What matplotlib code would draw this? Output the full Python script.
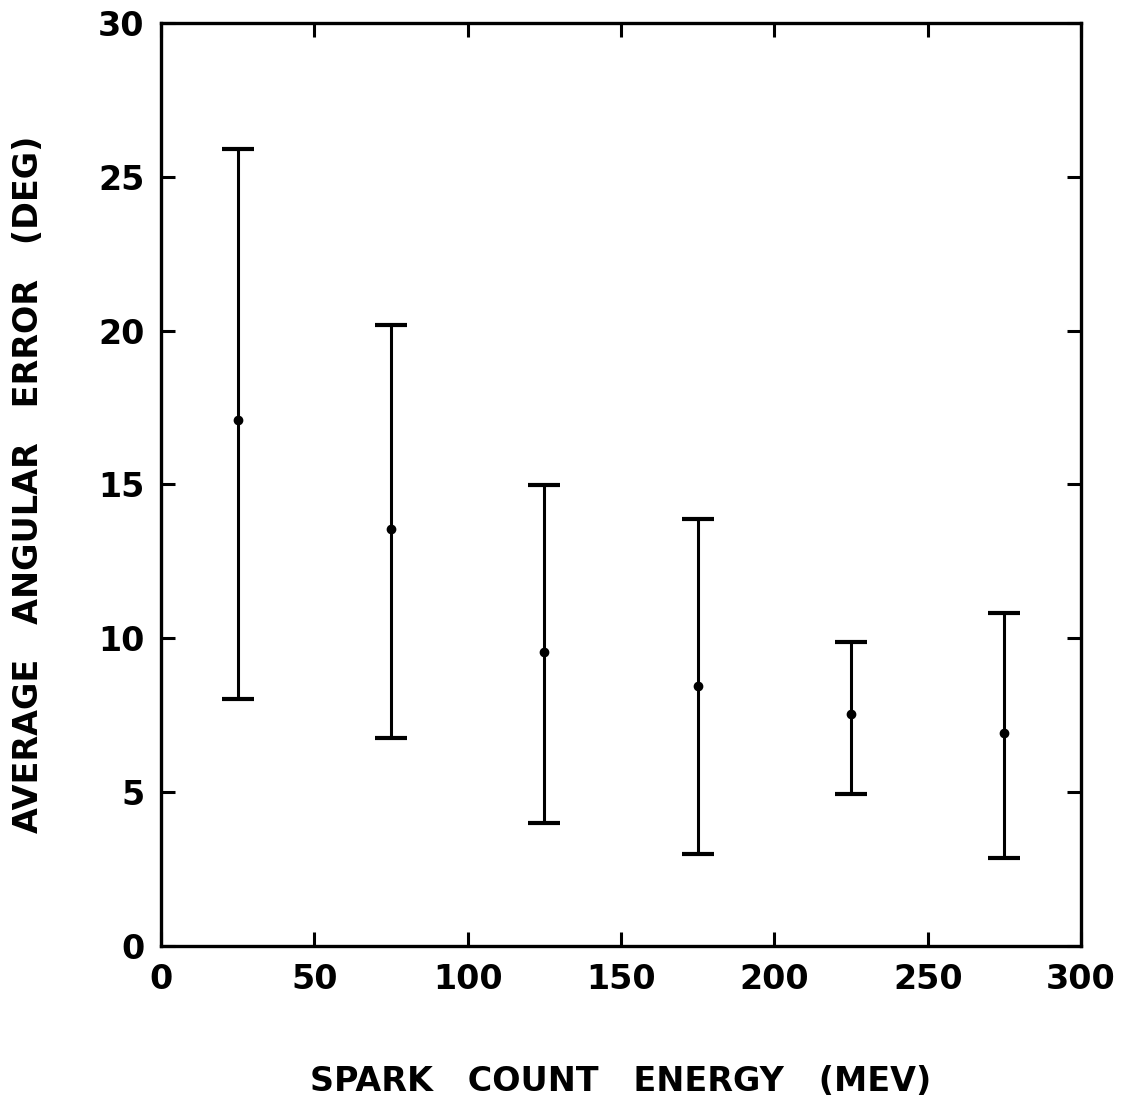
import matplotlib.pyplot as plt
import numpy as np

# spark count energy bins (MeV) and average angular error (deg)
energy = [25, 75, 125, 175, 225, 275]
err_mean = [17.1, 13.55, 9.55, 8.45, 7.55, 6.92]
err_high = [25.9, 20.18, 14.98, 13.88, 9.89, 10.82]
err_low = [8.03, 6.76, 4.0, 2.99, 4.94, 2.87]

xticks = [0, 50, 100, 150, 200, 250, 300]
yticks = [0, 5, 10, 15, 20, 25, 30]

plt.rcParams['font.family'] = ['DejaVu Sans']

fig = plt.figure(figsize=(11.27, 11.02), dpi=100)
ax = fig.add_axes([0.1429, 0.1416, 0.8163, 0.8375])

m = np.array(err_mean)
yerr = [m - np.array(err_low), np.array(err_high) - m]
ax.errorbar(energy, err_mean, yerr=yerr, fmt='o', color='black', ms=6,
            elinewidth=2.2, capsize=11.5, capthick=3)

ax.set_xlim(0, 300)
ax.set_ylim(0, 30)
ax.set_xticks(xticks)
ax.set_yticks(yticks)
ax.set_xticklabels([str(t) for t in xticks], fontsize=24, fontweight='bold')
ax.set_yticklabels([str(t) for t in yticks], fontsize=24, fontweight='bold')
ax.tick_params(direction='in', length=10, width=2.2, top=True, right=True,
               pad=12)
for s in ax.spines.values():
    s.set_linewidth(2.4)

ax.set_xlabel('SPARK   COUNT   ENERGY   (MEV)', fontsize=24, fontweight='bold',
              labelpad=50)
ax.set_ylabel('AVERAGE   ANGULAR   ERROR   (DEG)', fontsize=24,
              fontweight='bold', labelpad=38)

plt.savefig('out.png')
